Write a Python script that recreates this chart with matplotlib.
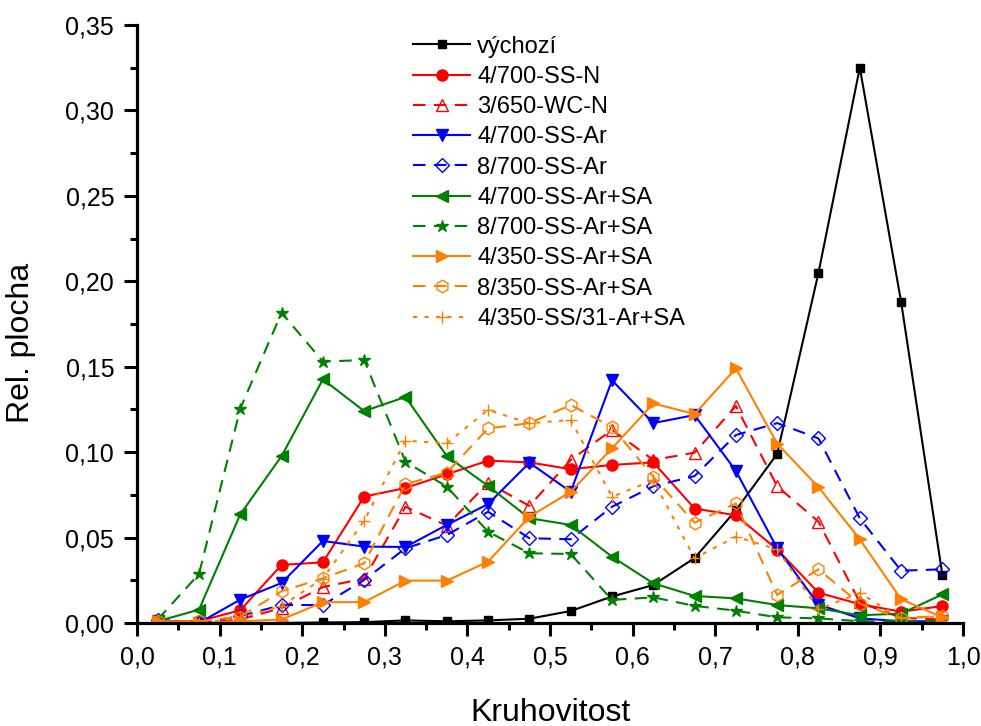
import numpy as np
import matplotlib
matplotlib.use('Agg')
import matplotlib.pyplot as plt
from matplotlib.ticker import MultipleLocator, FuncFormatter

plt.rcParams['font.family'] = ['Liberation Sans', 'DejaVu Sans']

x = [0.025, 0.075, 0.125, 0.175, 0.225, 0.275, 0.325, 0.375, 0.425, 0.475,
     0.525, 0.575, 0.625, 0.675, 0.725, 0.775, 0.825, 0.875, 0.925, 0.975]

vychozi = [0, 0, 0, 0, 0.0003, 0.0005, 0.0015, 0.001, 0.0015, 0.0025,
           0.007, 0.0155, 0.0222, 0.038, 0.066, 0.099, 0.205, 0.325, 0.188, 0.028]
ss_n = [0.001, 0.001, 0.0075, 0.034, 0.0355, 0.074, 0.079, 0.087, 0.095, 0.094,
        0.090, 0.0925, 0.094, 0.067, 0.063, 0.043, 0.0177, 0.011, 0.0066, 0.0099]
wc_n = [0.001, 0, 0.002, 0.0088, 0.021, 0.026, 0.068, 0.057, 0.082, 0.0685,
        0.0954, 0.113, 0.0954, 0.0997, 0.127, 0.080, 0.0593, 0.012, 0.003, 0.002]
ss_ar = [0.001, 0, 0.0137, 0.0234, 0.048, 0.0447, 0.0445, 0.0574, 0.0696, 0.0938,
         0.0768, 0.142, 0.117, 0.1217, 0.089, 0.0437, 0.0108, 0.0027, 0.001, 0.001]
ss_ar8 = [0.002, 0, 0.004, 0.0105, 0.0105, 0.0252, 0.0437, 0.0515, 0.0651, 0.0496,
          0.049, 0.068, 0.080, 0.086, 0.110, 0.117, 0.108, 0.0613, 0.0306, 0.0314]
sa4 = [0.001, 0.0078, 0.0636, 0.0977, 0.1426, 0.124, 0.1323, 0.0977, 0.0802, 0.0613,
       0.0574, 0.0388, 0.0232, 0.0158, 0.0144, 0.0105, 0.0086, 0.0045, 0.0055, 0.0167]
sa8 = [0.002, 0.0287, 0.1255, 0.1816, 0.153, 0.1539, 0.0944, 0.0798, 0.0534, 0.0408,
       0.0404, 0.0135, 0.015, 0.010, 0.0072, 0.0033, 0.0027, 0.001, 0.001, 0.001]
or4 = [0.001, 0, 0.001, 0.002, 0.0122, 0.0122, 0.0248, 0.0248, 0.0359, 0.0622,
       0.0768, 0.1022, 0.1285, 0.1223, 0.149, 0.105, 0.0795, 0.049, 0.0139, 0.0033]
or8 = [0.001, 0.001, 0.0037, 0.0186, 0.0261, 0.035, 0.0813, 0.088, 0.1139, 0.1169,
       0.1276, 0.1147, 0.0856, 0.0587, 0.070, 0.0164, 0.0314, 0.0113, 0.0027, 0.0042]
or31 = [0.001, 0, 0.003, 0.01, 0.026, 0.0599, 0.1067, 0.1052, 0.1247, 0.1169,
        0.1188, 0.0739, 0.0835, 0.0379, 0.0505, 0.0431, 0.008, 0.0176, 0.0027, 0.004]

labels = ['výchozí', '4/700-SS-N', '3/650-WC-N', '4/700-SS-Ar', '8/700-SS-Ar',
          '4/700-SS-Ar+SA', '8/700-SS-Ar+SA', '4/350-SS-Ar+SA', '8/350-SS-Ar+SA',
          '4/350-SS/31-Ar+SA']

dash = (0, (6, 4))
dot = (0, (2, 3.5))
# (data, color, marker, linestyle, filled, markersize)
series = [
    (vychozi, 'black', 's', '-', True, 6),
    (ss_n, 'red', 'o', '-', True, 8),
    (wc_n, 'red', '^', dash, False, 9),
    (ss_ar, 'blue', 'v', '-', True, 9),
    (ss_ar8, 'blue', 'D', dash, False, 7),
    (sa4, 'green', '<', '-', True, 9),
    (sa8, 'green', '*', dash, True, 9),
    (or4, '#ff8000', '>', '-', True, 9),
    (or8, '#ff8000', 'h', dash, False, 9),
    (or31, '#ff8000', '+', dot, True, 9),
]

fig = plt.figure(figsize=(9.81, 7.26), dpi=100)
ax = fig.add_axes([0.1397, 0.1419, 0.8420, 0.8237])

for (y, c, m, ls, filled, ms), lab in zip(series, labels):
    ax.plot(x, y, color=c, marker=m, linestyle=ls, linewidth=1.5,
            markersize=ms, markerfacecolor=c if filled else 'none',
            markeredgecolor=c, markeredgewidth=1.0, label=lab)

ax.set_xlim(0, 1.0)
ax.set_ylim(0, 0.35)
ax.xaxis.set_major_locator(MultipleLocator(0.1))
ax.xaxis.set_minor_locator(MultipleLocator(0.05))
ax.yaxis.set_major_locator(MultipleLocator(0.05))
ax.yaxis.set_minor_locator(MultipleLocator(0.025))
ax.xaxis.set_major_formatter(FuncFormatter(lambda v, p: f'{v:.1f}'.replace('.', ',')))
ax.yaxis.set_major_formatter(FuncFormatter(lambda v, p: f'{v:.2f}'.replace('.', ',')))

for s in ['top', 'right']:
    ax.spines[s].set_visible(False)
for s in ['left', 'bottom']:
    ax.spines[s].set_linewidth(2.3)
ax.tick_params(which='major', direction='out', length=9.5, width=2.2,
               labelsize=18, pad=7)
ax.tick_params(which='minor', direction='out', length=5, width=2.2)

ax.set_xlabel('Kruhovitost', fontsize=23)
ax.set_ylabel('Rel. plocha', fontsize=23)
ax.xaxis.set_label_coords(0.5, -0.125)
ax.yaxis.set_label_coords(-0.122, 0.468)

ax.legend(loc='upper left', bbox_to_anchor=(0.323, 0.998), frameon=False,
          fontsize=17, handlelength=2.4, labelspacing=0.35, handletextpad=0.3,
          borderaxespad=0.0)

fig.savefig('out.png', dpi=100)
